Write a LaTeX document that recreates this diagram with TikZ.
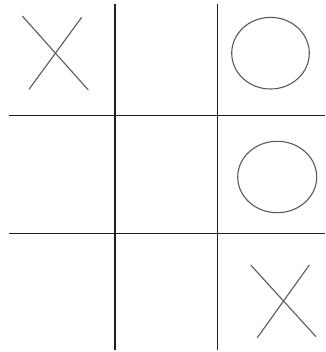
\documentclass[tikz,border=0pt]{standalone}
\begin{document}
\begin{tikzpicture}[x=1pt,y=-1pt,
  gridline/.style={draw=black!88,line width=1.3pt},
  tttmark/.style={draw=black!65,line width=1.1pt}]
\useasboundingbox (0,0) rectangle (325,352);
% grid lines
\coordinate (v1t) at (115,4.5); \coordinate (v1b) at (115,350);
\coordinate (v2t) at (217.7,4.5); \coordinate (v2b) at (217.7,350);
\coordinate (h1l) at (9,115.7); \coordinate (h1r) at (325,115.7);
\coordinate (h2l) at (9,233.3); \coordinate (h2r) at (325,233.3);
\draw[gridline] (v1t) -- (v1b);
\draw[gridline] (v2t) -- (v2b);
\draw[gridline] (h1l) -- (h1r);
\draw[gridline] (h2l) -- (h2r);
% X top-left
\coordinate (a1) at (22.3,16); \coordinate (a2) at (88.3,90);
\coordinate (a3) at (81.7,17.3); \coordinate (a4) at (29,89.3);
\draw[tttmark] (a1) -- (a2);
\draw[tttmark] (a3) -- (a4);
% O top-right
\coordinate (o1) at (270.5,53.2);
\draw[tttmark] (o1) ellipse [x radius=38.8, y radius=35.8];
% O middle-right
\coordinate (o2) at (277.2,177);
\draw[tttmark] (o2) ellipse [x radius=39.5, y radius=35.7];
% X bottom-right
\coordinate (b1) at (250.7,265); \coordinate (b2) at (316,336.7);
\coordinate (b3) at (309.3,265); \coordinate (b4) at (257.3,337.7);
\draw[tttmark] (b1) -- (b2);
\draw[tttmark] (b3) -- (b4);
\end{tikzpicture}
\end{document}
